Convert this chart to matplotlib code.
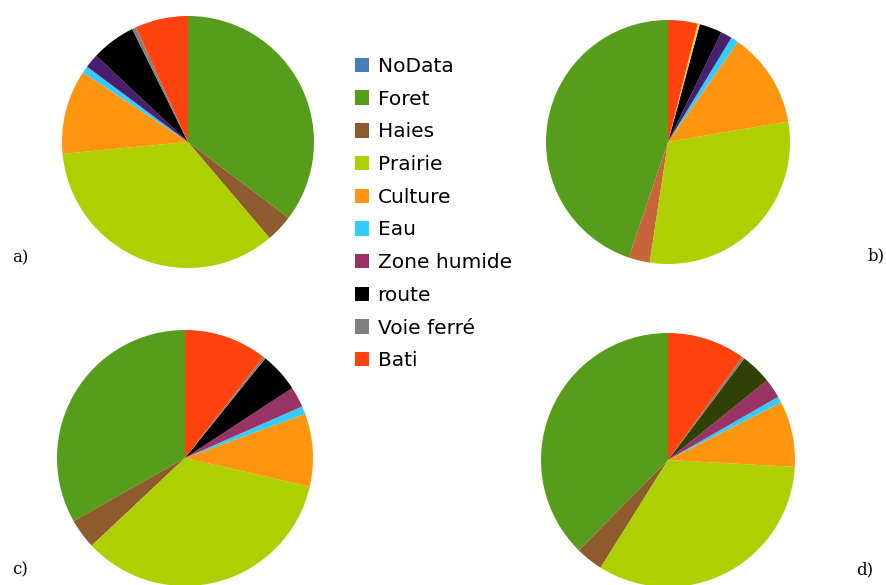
import matplotlib
matplotlib.use("Agg")
import matplotlib.pyplot as plt
from matplotlib.patches import Patch

# classes d'occupation du sol
categories = ["NoData", "Foret", "Haies", "Prairie", "Culture", "Eau",
              "Zone humide", "route", "Voie ferré", "Bati"]

part_a = [0, 35.3, 3.5, 34.7, 10.8, 0.9, 1.8, 5.7, 0.5, 6.8]
part_b = [0, 44.8, 2.8, 30.1, 12.6, 1.0, 1.5, 3.0, 0.3, 3.9]
part_c = [0, 33.2, 3.8, 34.4, 9.2, 1.0, 2.6, 5.0, 0.3, 10.5]
part_d = [0, 37.8, 3.5, 33.2, 8.4, 0.8, 2.5, 4.0, 0.3, 10.0]

legend_colors = ["#4a7ebb", "#579d1c", "#8e5b2e", "#aecf00", "#ff950e",
                 "#33ccff", "#993366", "#000000", "#808080", "#ff420e"]
colors_a = ["#4a7ebb", "#579d1c", "#8e5b2e", "#aecf00", "#ff950e",
            "#33ccff", "#4b1f6f", "#000000", "#808080", "#ff420e"]
colors_b = ["#4a7ebb", "#579d1c", "#c8643a", "#aecf00", "#ff950e",
            "#33ccff", "#4b1f6f", "#000000", "#ffd320", "#ff420e"]
colors_c = ["#4a7ebb", "#579d1c", "#8e5b2e", "#aecf00", "#ff950e",
            "#33ccff", "#993366", "#000000", "#808080", "#ff420e"]
colors_d = ["#4a7ebb", "#579d1c", "#8e5b2e", "#aecf00", "#ff950e",
            "#33ccff", "#993366", "#314004", "#808080", "#ff420e"]

W, H = 887, 585
fig = plt.figure(figsize=(W / 100, H / 100), dpi=100)


def pie_at(cx, cy, r, vals, cols, clockwise):
    ax = fig.add_axes([(cx - r) / W, 1 - (cy + r) / H, 2 * r / W, 2 * r / H])
    ax.pie(vals, colors=cols, startangle=90, counterclock=not clockwise,
           radius=1, wedgeprops=dict(linewidth=0))
    ax.set_xlim(-1, 1)
    ax.set_ylim(-1, 1)
    ax.set_aspect("equal")
    ax.axis("off")
    return ax


pie_at(188, 142, 126, part_a, colors_a, True)
pie_at(668, 142, 122, part_b, colors_b, False)
pie_at(185, 458, 128, part_c, colors_c, False)
pie_at(668, 460, 127, part_d, colors_d, False)

# étiquettes des sous-figures
lab = dict(fontsize=12, family="DejaVu Serif", va="center", ha="left")
fig.text(12 / W, 1 - 258 / H, "a)", **lab)
fig.text(868 / W, 1 - 256 / H, "b)", **lab)
fig.text(12 / W, 1 - 570 / H, "c)", **lab)
fig.text(856 / W, 1 - 570 / H, "d)", **lab)

handles = [Patch(facecolor=c, edgecolor="none") for c in legend_colors]
fig.legend(handles, categories, loc="upper left",
           bbox_to_anchor=(355 / W, 1 - 57 / H), frameon=False,
           prop=dict(family="DejaVu Sans", size=14.5),
           handlelength=0.72, handleheight=0.72, handletextpad=0.4,
           labelspacing=0.68, borderpad=0, borderaxespad=0)

fig.savefig("out.png", dpi=100)
